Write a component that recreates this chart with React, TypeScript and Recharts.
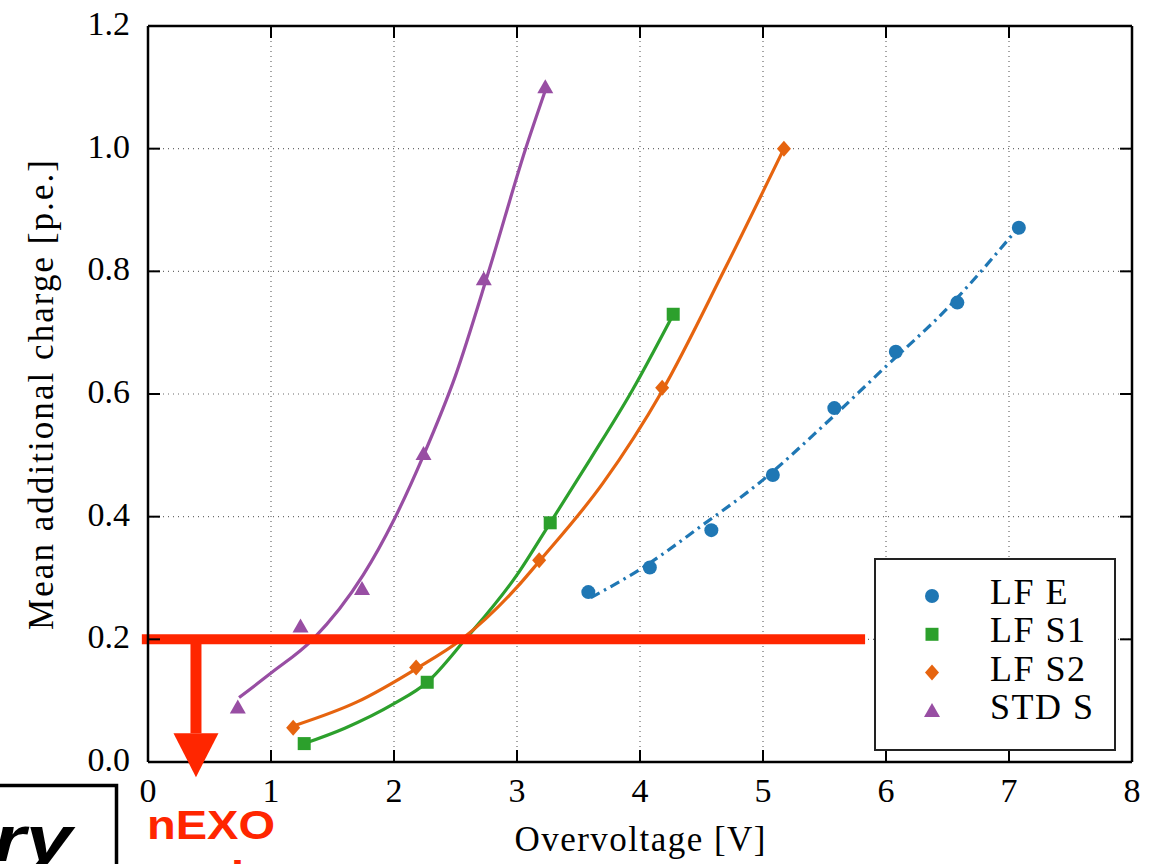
import React from 'react';
import {
  ComposedChart,
  XAxis,
  YAxis,
  CartesianGrid,
  Scatter,
  Line,
  ReferenceLine,
  ReferenceDot,
  Legend,
} from 'recharts';

// ---------- axes ----------
const X_TICKS = [0, 1, 2, 3, 4, 5, 6, 7, 8];
const Y_TICKS = [0, 0.2, 0.4, 0.6, 0.8, 1.0, 1.2];

// ---------- series ----------
const SERIES_NAMES = ['LF E', 'LF S1', 'LF S2', 'STD S'];
const SERIES_COLORS = ['#1f77b4', '#2ca02c', '#e6640f', '#984ea3'];
const SERIES_SYMBOLS = ['circle', 'square', 'diamond', 'triangle'];

// measured points (overvoltage V, mean additional charge p.e.)
const LF_E_V = [3.58, 4.08, 4.58, 5.08, 5.58, 6.08, 6.58, 7.08];
const LF_E_Q = [0.277, 0.317, 0.378, 0.468, 0.577, 0.669, 0.749, 0.871];
const LF_S1_V = [1.27, 2.27, 3.27, 4.27];
const LF_S1_Q = [0.03, 0.13, 0.39, 0.73];
const LF_S2_V = [1.18, 2.18, 3.18, 4.18, 5.17];
const LF_S2_Q = [0.056, 0.154, 0.329, 0.61, 1.0];
const STD_S_V = [0.73, 1.24, 1.74, 2.24, 2.73, 3.23];
const STD_S_Q = [0.089, 0.221, 0.282, 0.502, 0.787, 1.1];

// fit curves
const LF_E_FIT_V = [3.6, 4.0, 4.5, 5.0, 5.5, 6.0, 6.5, 7.05];
const LF_E_FIT_Q = [0.268, 0.314, 0.385, 0.46, 0.55, 0.645, 0.74, 0.865];
const LF_S1_FIT_V = [1.27, 1.6, 2.0, 2.27, 2.58, 3.0, 3.27, 3.6, 3.94, 4.25];
const LF_S1_FIT_Q = [0.03, 0.055, 0.095, 0.13, 0.2, 0.305, 0.39, 0.495, 0.607, 0.722];
const LF_S2_FIT_V = [1.2, 1.7, 2.18, 2.55, 3.0, 3.18, 3.7, 4.18, 4.68, 5.17];
const LF_S2_FIT_Q = [0.06, 0.098, 0.152, 0.2, 0.285, 0.327, 0.455, 0.605, 0.8, 1.0];
const STD_S_FIT_V = [0.74, 1.0, 1.34, 1.75, 2.0, 2.24, 2.5, 2.77, 3.07, 3.23];
const STD_S_FIT_Q = [0.105, 0.145, 0.2, 0.305, 0.395, 0.5, 0.63, 0.8, 1.0, 1.095];

// annotation (requirement line)
const REQ_Q = 0.2;
const REQ_V_START = -0.05;
const REQ_V_END = 5.83;
const ARROW_V = 0.39;
const ARROW_TIP_Q = 0.047;

const zip = (v: number[], q: number[]) => v.map((x, i) => ({ v: x, q: q[i] }));

const POINTS = [zip(LF_E_V, LF_E_Q), zip(LF_S1_V, LF_S1_Q), zip(LF_S2_V, LF_S2_Q), zip(STD_S_V, STD_S_Q)];
const FITS = [
  zip(LF_E_FIT_V, LF_E_FIT_Q),
  zip(LF_S1_FIT_V, LF_S1_FIT_Q),
  zip(LF_S2_FIT_V, LF_S2_FIT_Q),
  zip(STD_S_FIT_V, STD_S_FIT_Q),
];
const FIT_DASH = ['10 5 2.5 5', undefined, undefined, undefined];

const SERIF = '"Liberation Serif", "Times New Roman", serif';
const SANS = '"Liberation Sans", Arial, sans-serif';
const RED = '#ff2600';

function Marker({ kind, cx, cy, color }: { kind: string; cx: number; cy: number; color: string }) {
  if (cx == null || cy == null) return null;
  switch (kind) {
    case 'circle':
      return <circle cx={cx} cy={cy} r={7} fill={color} />;
    case 'square':
      return <rect x={cx - 6.5} y={cy - 6.5} width={13} height={13} fill={color} />;
    case 'diamond':
      return <polygon points={`${cx},${cy - 8} ${cx + 7},${cy} ${cx},${cy + 8} ${cx - 7},${cy}`} fill={color} />;
    default:
      return <polygon points={`${cx},${cy - 8} ${cx + 8},${cy + 6} ${cx - 8},${cy + 6}`} fill={color} />;
  }
}

const fmtY = (v: number) => v.toFixed(1);

function BottomTick(props: any) {
  const { x, y, payload } = props;
  return (
    <g>
      <line x1={x} x2={x} y1={y} y2={y - 12} stroke="#000" strokeWidth={2} />
      <text x={x} y={y + 40} textAnchor="middle" fontFamily={SERIF} fontSize={34} fill="#000">
        {payload.value}
      </text>
    </g>
  );
}
function TopTick(props: any) {
  const { x, y } = props;
  return <line x1={x} x2={x} y1={y} y2={y + 12} stroke="#000" strokeWidth={2} />;
}
function LeftTick(props: any) {
  const { x, y, payload } = props;
  return (
    <g>
      <line x1={x} x2={x + 12} y1={y} y2={y} stroke="#000" strokeWidth={2} />
      <text x={x - 18} y={y + 9} textAnchor="end" fontFamily={SERIF} fontSize={34} fill="#000">
        {fmtY(payload.value)}
      </text>
    </g>
  );
}
function RightTick(props: any) {
  const { x, y } = props;
  return <line x1={x} x2={x - 12} y1={y} y2={y} stroke="#000" strokeWidth={2} />;
}

function XLabel(props: any) {
  const vb = props.viewBox || {};
  const cx = vb.x + vb.width / 2;
  return (
    <text x={cx} y={851} textAnchor="middle" fontFamily={SERIF} fontSize={35} fill="#000" textLength={251} lengthAdjust="spacing">
      Overvoltage [V]
    </text>
  );
}
function YLabel(props: any) {
  const vb = props.viewBox || {};
  const cy = vb.y + vb.height / 2 + 1;
  return (
    <text
      transform={`rotate(-90 53 ${cy})`}
      x={53}
      y={cy}
      textAnchor="middle"
      fontFamily={SERIF}
      fontSize={35}
      fill="#000"
      textLength={470}
      lengthAdjust="spacing"
    >
      Mean additional charge [p.e.]
    </text>
  );
}

function LegendBox() {
  return (
    <svg width={242} height={193} style={{ display: 'block' }}>
      <rect x={1} y={1} width={240} height={191} fill="#fff" stroke="#222" strokeWidth={2} />
      {SERIES_NAMES.map((name, i) => {
        const cy = 38 + i * 38.3;
        return (
          <g key={name}>
            <Marker kind={SERIES_SYMBOLS[i]} cx={58} cy={cy} color={SERIES_COLORS[i]} />
            <text x={116} y={cy + 8} fontFamily={SERIF} fontSize={36} fill="#000" letterSpacing={1.5}>
              {name}
            </text>
          </g>
        );
      })}
    </svg>
  );
}

function ArrowHead(props: any) {
  const { cx, cy } = props;
  if (cx == null || cy == null) return null;
  return <polygon points={`${cx - 22.5},${cy} ${cx + 22.5},${cy} ${cx},${cy + 44}`} fill={RED} />;
}

const AXIS_LINE = { stroke: '#000', strokeWidth: 2.5 };

export default function App() {
  return (
    <div style={{ position: 'absolute', left: 0, top: 0, width: 1159, height: 864, background: '#fff', overflow: 'hidden' }}>
      <ComposedChart width={1159} height={864} margin={{ top: 25, right: 26, bottom: 101, left: 147 }}>
        <CartesianGrid stroke="#6a6a6a" strokeDasharray="1 4" strokeWidth={1.2} />
        <XAxis
          dataKey="v"
          type="number"
          domain={[0, 8]}
          ticks={X_TICKS}
          allowDataOverflow
          height={1}
          tickSize={0}
          tickMargin={0}
          tickLine={false}
          tick={<BottomTick />}
          axisLine={AXIS_LINE}
          interval={0}
          label={<XLabel />}
        />
        <XAxis
          xAxisId="top"
          orientation="top"
          dataKey="v"
          type="number"
          domain={[0, 8]}
          ticks={X_TICKS}
          allowDataOverflow
          height={1}
          tickSize={0}
          tickMargin={0}
          tickLine={false}
          tick={<TopTick />}
          interval={0}
          axisLine={AXIS_LINE}
        />
        <YAxis
          type="number"
          domain={[0, 1.2]}
          ticks={Y_TICKS}
          allowDataOverflow
          width={1}
          tickSize={0}
          tickMargin={0}
          tickLine={false}
          tick={<LeftTick />}
          interval={0}
          axisLine={AXIS_LINE}
          label={<YLabel />}
        />
        <YAxis
          yAxisId="right"
          orientation="right"
          type="number"
          domain={[0, 1.2]}
          ticks={Y_TICKS}
          allowDataOverflow
          width={1}
          tickSize={0}
          tickMargin={0}
          tickLine={false}
          tick={<RightTick />}
          interval={0}
          axisLine={AXIS_LINE}
        />
        {FITS.map((d, i) => (
          <Line
            key={'fit' + i}
            data={d}
            dataKey="q"
            type="monotone"
            stroke={SERIES_COLORS[i]}
            strokeWidth={3.2}
            strokeDasharray={FIT_DASH[i]}
            dot={false}
            activeDot={false}
            legendType="none"
            isAnimationActive={false}
          />
        ))}
        {POINTS.map((d, i) => (
          <Scatter
            key={SERIES_NAMES[i]}
            name={SERIES_NAMES[i]}
            data={d}
            dataKey="q"
            fill={SERIES_COLORS[i]}
            isAnimationActive={false}
            shape={(p: any) => <Marker kind={SERIES_SYMBOLS[i]} cx={p.cx} cy={p.cy} color={SERIES_COLORS[i]} />}
          />
        ))}
        <ReferenceLine
          segment={[
            { x: REQ_V_START, y: REQ_Q },
            { x: REQ_V_END, y: REQ_Q },
          ]}
          stroke={RED}
          strokeWidth={10}
          ifOverflow="visible"
        />
        <ReferenceLine
          segment={[
            { x: ARROW_V, y: REQ_Q },
            { x: ARROW_V, y: ARROW_TIP_Q },
          ]}
          stroke={RED}
          strokeWidth={11}
          ifOverflow="visible"
        />
        <ReferenceDot x={ARROW_V} y={ARROW_TIP_Q} ifOverflow="visible" shape={<ArrowHead />} />
        <Legend
          layout="vertical"
          verticalAlign="middle"
          align="center"
          content={<LegendBox />}
          wrapperStyle={{ left: 874, top: 558, width: 242, height: 193 }}
        />
      </ComposedChart>
      <svg
        width={1159}
        height={864}
        style={{ position: 'absolute', left: 0, top: 0, pointerEvents: 'none' }}
      >
        <rect x={-20} y={785.5} width={136.5} height={120} fill="none" stroke="#000" strokeWidth={3.5} />
        <g transform="translate(72 861) scale(1.3 1)">
          <text x={0} y={0} textAnchor="end" fontFamily={SANS} fontWeight="bold" fontStyle="italic" fontSize={64} fill="#000">
            Preliminary
          </text>
        </g>
        <text x={147} y={839} fontFamily={SANS} fontWeight="bold" fontSize={40} fill={RED} textLength={128} lengthAdjust="spacingAndGlyphs">
          nEXO
        </text>
        <text x={147} y={890} fontFamily={SANS} fontWeight="bold" fontSize={40} fill={RED} textLength={97} lengthAdjust="spacingAndGlyphs">
          goal
        </text>
      </svg>
    </div>
  );
}
